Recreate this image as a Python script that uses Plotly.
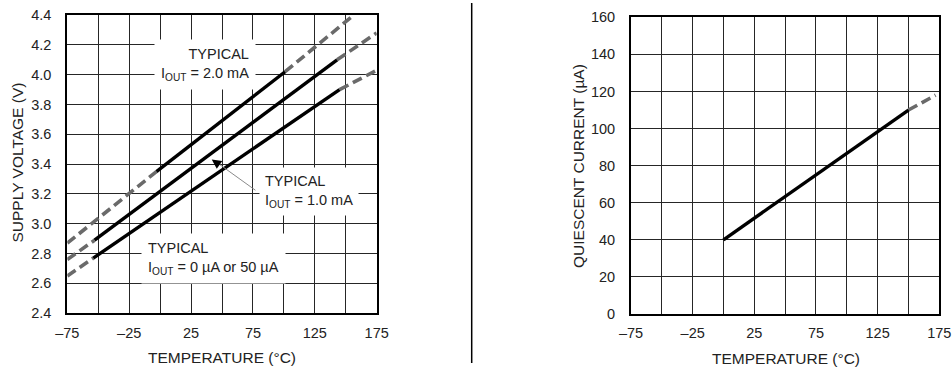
import plotly.graph_objects as go

# ---------------- data ----------------
# Left chart: supply voltage vs temperature (three load currents)
t_2ma_dash_lo = [-75, -3]
v_2ma_dash_lo = [2.87, 3.35]
t_2ma_solid = [-3, 101]
v_2ma_solid = [3.35, 4.02]
t_2ma_dash_hi = [101, 155]
v_2ma_dash_hi = [4.02, 4.39]

t_1ma_dash_lo = [-75, -53]
v_1ma_dash_lo = [2.76, 2.89]
t_1ma_solid = [-53, 143]
v_1ma_solid = [2.89, 4.10]
t_1ma_dash_hi = [143, 175]
v_1ma_dash_hi = [4.10, 4.28]

t_0ma_dash_lo = [-75, -54]
v_0ma_dash_lo = [2.65, 2.77]
t_0ma_solid = [-54, 145]
v_0ma_solid = [2.77, 3.90]
t_0ma_dash_hi = [145, 175]
v_0ma_dash_hi = [3.90, 4.03]

# Right chart: quiescent current vs temperature
t_iq_solid = [0, 150]
i_iq_solid = [40, 110]
t_iq_dash = [150, 172]
i_iq_dash = [110, 118]

x_ticks = [-75, -25, 25, 75, 125, 175]
x_tick_text = ["\u201375", "\u201325", "25", "75", "125", "175"]
v_ticks = [2.4, 2.6, 2.8, 3.0, 3.2, 3.4, 3.6, 3.8, 4.0, 4.2, 4.4]
v_tick_text = ["2.4", "2.6", "2.8", "3.0", "3.2", "3.4", "3.6", "3.8", "4.0", "4.2", "4.4"]
i_ticks = [0, 20, 40, 60, 80, 100, 120, 140, 160]

# ---------------- figure ----------------
W, H = 952, 367
FONT = "Liberation Sans, Arial, sans-serif"
TXT = "#222222"
GRID = "#262626"
GRID_W = 1.4
DASH_COL = "#6a6a6a"
SOLID_W = 3.4
DASH_W = 3.6
DASH = "10px,5px"

fig = go.Figure()

def add_line(x, y, dashed, xa="x", ya="y"):
    fig.add_trace(go.Scatter(
        x=x, y=y, mode="lines", xaxis=xa, yaxis=ya, showlegend=False, hoverinfo="skip",
        line=dict(color=DASH_COL if dashed else "black",
                  width=DASH_W if dashed else SOLID_W,
                  dash=DASH if dashed else "solid")))

# left
add_line(t_2ma_dash_lo, v_2ma_dash_lo, True)
add_line(t_2ma_dash_hi, v_2ma_dash_hi, True)
add_line(t_1ma_dash_lo, v_1ma_dash_lo, True)
add_line(t_1ma_dash_hi, v_1ma_dash_hi, True)
add_line(t_0ma_dash_lo, v_0ma_dash_lo, True)
add_line(t_0ma_dash_hi, v_0ma_dash_hi, True)
add_line(t_2ma_solid, v_2ma_solid, False)
add_line(t_1ma_solid, v_1ma_solid, False)
add_line(t_0ma_solid, v_0ma_solid, False)
# right
add_line(t_iq_dash, i_iq_dash, True, "x2", "y2")
add_line(t_iq_solid, i_iq_solid, False, "x2", "y2")

def px_x(p):
    return p / W

def px_y(p):
    return 1 - p / H

tick_font = dict(family=FONT, size=14.5, color=TXT)
common_x = dict(
    range=[-75, 175], tickvals=x_ticks, ticktext=x_tick_text, showgrid=True,
    gridcolor=GRID, gridwidth=GRID_W, zeroline=False, showline=True, mirror=True,
    linecolor="black", linewidth=2, ticks="", tickfont=tick_font,
    ticklabelstandoff=5, automargin=False,
    minor=dict(tick0=-75, dtick=25, showgrid=True, gridcolor=GRID, gridwidth=GRID_W),
    fixedrange=True,
)
common_y = dict(
    showgrid=True, gridcolor=GRID, gridwidth=GRID_W, zeroline=False, showline=True,
    mirror=True, linecolor="black", linewidth=2, ticks="", tickfont=tick_font,
    ticklabelstandoff=11, automargin=False, fixedrange=True,
)

fig.update_layout(
    template="none",
    width=W, height=H, margin=dict(l=0, r=0, t=0, b=0, pad=0), autosize=False,
    paper_bgcolor="white", plot_bgcolor="white",
    xaxis=dict(common_x, domain=[px_x(67.3), px_x(376.7)], anchor="y"),
    yaxis=dict(common_y, domain=[px_y(313.3), px_y(15)], anchor="x",
               range=[2.3995, 4.4005], tickvals=v_ticks, ticktext=v_tick_text),
    xaxis2=dict(common_x, domain=[px_x(631), px_x(939.3)], anchor="y2"),
    yaxis2=dict(common_y, domain=[px_y(314), px_y(17.3)], anchor="x2",
                range=[0, 160], tickvals=i_ticks),
    showlegend=False,
    hovermode=False,
)

title_font = dict(family=FONT, size=15.5, color=TXT)
annotations = [
    dict(text="TEMPERATURE (\u00b0C)", x=px_x(222), y=px_y(357.5), xref="paper", yref="paper",
         showarrow=False, font=title_font, xanchor="center", yanchor="middle"),
    dict(text="TEMPERATURE (\u00b0C)", x=px_x(785.5), y=px_y(358), xref="paper", yref="paper",
         showarrow=False, font=title_font, xanchor="center", yanchor="middle"),
    dict(text="SUPPLY VOLTAGE (V)", x=px_x(16.5), y=px_y(163), xref="paper", yref="paper",
         showarrow=False, font=title_font, xanchor="center", yanchor="middle", textangle=-90),
    dict(text="QUIESCENT CURRENT (\u00b5A)", x=px_x(578.5), y=px_y(166.5), xref="paper", yref="paper",
         showarrow=False, font=title_font, xanchor="center", yanchor="middle", textangle=-90),
]

label_font = dict(family=FONT, size=14.5, color=TXT)
# in-plot labels (white boxes over the grid)
annotations += [
    dict(text="TYPICAL<br>I<sub>OUT</sub> = 2.0 mA", x=px_x(256), y=px_y(64), xref="paper", yref="paper",
         showarrow=False, font=label_font, align="right", xanchor="right", yanchor="middle",
         bgcolor="white", borderpad=6),
    dict(text="TYPICAL<br>I<sub>OUT</sub> = 1.0 mA", x=px_x(259), y=px_y(191), xref="paper", yref="paper",
         showarrow=False, font=label_font, align="left", xanchor="left", yanchor="middle",
         bgcolor="white", borderpad=5),
    dict(text="TYPICAL<br>I<sub>OUT</sub> = 0 \u00b5A or 50 \u00b5A", x=px_x(141), y=px_y(258.5),
         xref="paper", yref="paper",
         showarrow=False, font=label_font, align="left", xanchor="left", yanchor="middle",
         bgcolor="white", borderpad=6),
    # black arrow head pointing at the 1.0 mA curve
    dict(x=41.7, y=3.432, ax=48, ay=3.395, xref="x", yref="y", axref="x", ayref="y",
         text="", showarrow=True, arrowhead=2, arrowsize=1.6, arrowwidth=1.2, arrowcolor="black"),
]
fig.update_layout(annotations=annotations)

# grey pointer shaft from the 1.0 mA label
fig.add_shape(type="line", xref="x", yref="y", x0=77, y0=3.225, x1=46, y1=3.41,
              line=dict(color="#8a8a8a", width=1))

# divider between the two charts
fig.add_shape(type="line", xref="paper", yref="paper",
              x0=px_x(471.7), x1=px_x(471.7), y0=px_y(3), y1=px_y(363),
              line=dict(color="black", width=1.5))

# remove the page's default body margin so the figure fills the window exactly
fig.write_html(
    "out.html",
    config=dict(displayModeBar=False),
    post_script="document.body.style.margin='0';document.body.style.overflow='hidden';",
)
